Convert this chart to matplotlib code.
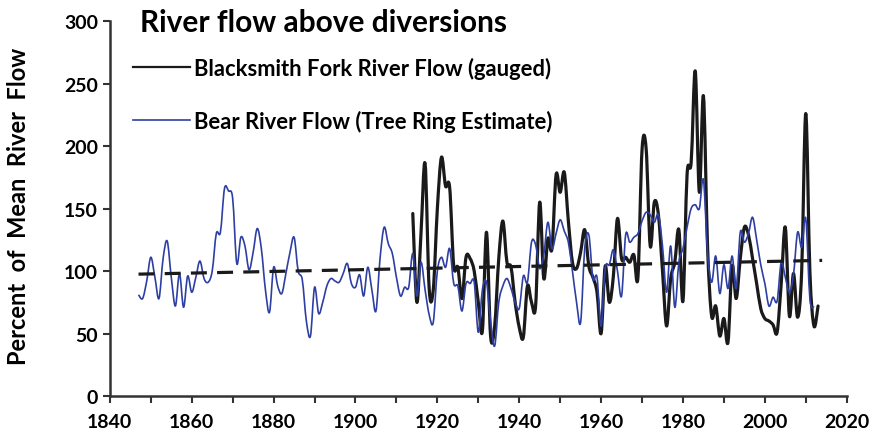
import matplotlib
matplotlib.use("Agg")
import matplotlib.pyplot as plt
from matplotlib.path import Path
from matplotlib.patches import PathPatch
from matplotlib.lines import Line2D
import numpy as np

plt.rcParams['font.family'] = ['Lato', 'DejaVu Sans']
plt.rcParams['font.weight'] = 'bold'

# Bear River Flow (Tree Ring Estimate), 1847-2012
bear_start = 1847
bear_values = [
    81, 78, 92, 111, 95, 78, 110, 124, 95, 72,          # 1847-1856
    98, 71, 96, 83, 95, 108, 94, 91, 100, 130,          # 1857-1866
    131, 166, 164, 158, 106, 127, 120, 101, 115, 134,   # 1867-1876
    118, 85, 67, 103, 88, 82, 98, 115, 127, 100,        # 1877-1886
    93, 60, 48, 87, 66, 75, 88, 94, 92, 91,             # 1887-1896
    98, 106, 90, 87, 97, 80, 103, 85, 68, 110,          # 1897-1906
    135, 122, 114, 95, 80, 87, 87, 114, 80, 107,        # 1907-1916
    85, 65, 59, 100, 111, 103, 118, 90, 88, 68,         # 1917-1926
    90, 90, 91, 51, 85, 91, 60, 40, 75, 88,             # 1927-1936
    94, 86, 75, 70, 96, 91, 123, 121, 102, 113,         # 1937-1946
    139, 118, 130, 141, 132, 123, 100, 75, 59, 118,     # 1947-1956
    129, 94, 95, 56, 102, 105, 117, 100, 80, 129,       # 1957-1966
    123, 127, 130, 140, 147, 145, 139, 145, 120, 83,    # 1967-1976
    120, 71, 107, 118, 135, 150, 153, 150, 173, 115,    # 1977-1986
    91, 112, 82, 105, 86, 112, 86, 131, 123, 130,       # 1987-1996
    143, 125, 105, 90, 72, 79, 76, 107, 95, 83,         # 1997-2006
    97, 131, 119, 142, 78, 71,                          # 2007-2012
]

# Blacksmith Fork River Flow (gauged), 1914-2013
black_start = 1914
black_values = [
    146, 75, 130, 186, 86, 85, 150, 191, 168, 167,      # 1914-1923
    104, 103, 78, 111, 110, 100, 75, 52, 131, 48,       # 1924-1933
    56, 110, 140, 107, 103, 75, 55, 47, 88, 75,         # 1934-1943
    72, 155, 94, 126, 118, 177, 163, 179, 140, 107,     # 1944-1953
    102, 115, 133, 104, 95, 83, 50, 104, 75, 96,        # 1954-1963
    142, 110, 111, 107, 113, 95, 197, 198, 120, 155,    # 1964-1973
    145, 100, 56, 94, 107, 133, 76, 177, 187, 260,      # 1974-1983
    163, 240, 120, 64, 72, 48, 62, 43, 104, 78,         # 1984-1993
    110, 135, 129, 110, 90, 70, 62, 60, 57, 51,         # 1994-2003
    90, 135, 64, 98, 63, 100, 226, 100, 56, 72,         # 2004-2013
]

# Linear trend line endpoints
trend_years = [1847, 2014]
trend_values = [97.5, 108.5]

x_ticks = [1840, 1860, 1880, 1900, 1920, 1940, 1960, 1980, 2000, 2020]
y_ticks = [0, 50, 100, 150, 200, 250, 300]

title = "River flow above diversions"
ylabel = "Percent  of  Mean  River  Flow"
label_black = "Blacksmith Fork River Flow (gauged)"
label_bear = "Bear River Flow (Tree Ring Estimate)"

BLACK = '#1a1a1a'
BLUE = '#2e3fa3'


def smooth_path(xs, ys):
    """Excel-style smoothed line: cubic Bezier segments through every data point."""
    xs = np.asarray(xs, float)
    ys = np.asarray(ys, float)
    n = len(xs)
    verts = [(xs[0], ys[0])]
    codes = [Path.MOVETO]
    for i in range(n - 1):
        i0 = max(i - 1, 0)
        i3 = min(i + 2, n - 1)
        c1 = (xs[i] + (xs[i + 1] - xs[i0]) / 6.0, ys[i] + (ys[i + 1] - ys[i0]) / 6.0)
        c2 = (xs[i + 1] - (xs[i3] - xs[i]) / 6.0, ys[i + 1] - (ys[i3] - ys[i]) / 6.0)
        verts += [c1, c2, (xs[i + 1], ys[i + 1])]
        codes += [Path.CURVE4] * 3
    return Path(verts, codes)


bear_years = np.arange(bear_start, bear_start + len(bear_values))
black_years = np.arange(black_start, black_start + len(black_values))

fig = plt.figure(figsize=(8.72, 4.39), dpi=100)
ax = fig.add_axes([0.126, 0.0957, 0.845, 0.854])

ax.add_patch(PathPatch(smooth_path(black_years, black_values), fill=False,
                       edgecolor=BLACK, lw=2.3, joinstyle='round', capstyle='round', zorder=3))
ax.add_patch(PathPatch(smooth_path(bear_years, bear_values), fill=False,
                       edgecolor=BLUE, lw=1.2, joinstyle='round', zorder=4))
ax.plot(trend_years, trend_values, color=BLACK, lw=2.3, dashes=(5, 3.2), zorder=5)

ax.set_xlim(1840, 2020)
ax.set_ylim(0, 300)
ax.set_xticks(x_ticks)
ax.set_xticks(np.arange(1850, 2020, 20), minor=True)
ax.set_yticks(y_ticks)
ax.tick_params(axis='both', which='both', direction='out', width=1.5, length=5,
               labelsize=14, color='#333333')
ax.tick_params(axis='x', pad=7)
for lab in ax.get_xticklabels() + ax.get_yticklabels():
    lab.set_fontweight('bold')

for s in ['top', 'right']:
    ax.spines[s].set_visible(False)
for s in ['left', 'bottom']:
    ax.spines[s].set_linewidth(1.8)
    ax.spines[s].set_color('#333333')

fig.text(0.021, 0.53, ylabel, rotation=90, ha='center', va='center', fontsize=17, fontweight='bold')
fig.text(0.160, 0.948, title, ha='left', va='center', fontsize=21.5, fontweight='bold')

handles = [Line2D([], [], color=BLACK, lw=1.6), Line2D([], [], color=BLUE, lw=1.2)]
leg = ax.legend(handles, [label_black, label_bear], loc='upper left',
                bbox_to_anchor=(0.031, 0.905), frameon=False,
                fontsize=15.8, handlelength=2.6, handletextpad=0.2, labelspacing=1.4,
                borderaxespad=0, borderpad=0)
for t in leg.get_texts():
    t.set_fontweight('bold')

fig.savefig('out.png', dpi=100)
